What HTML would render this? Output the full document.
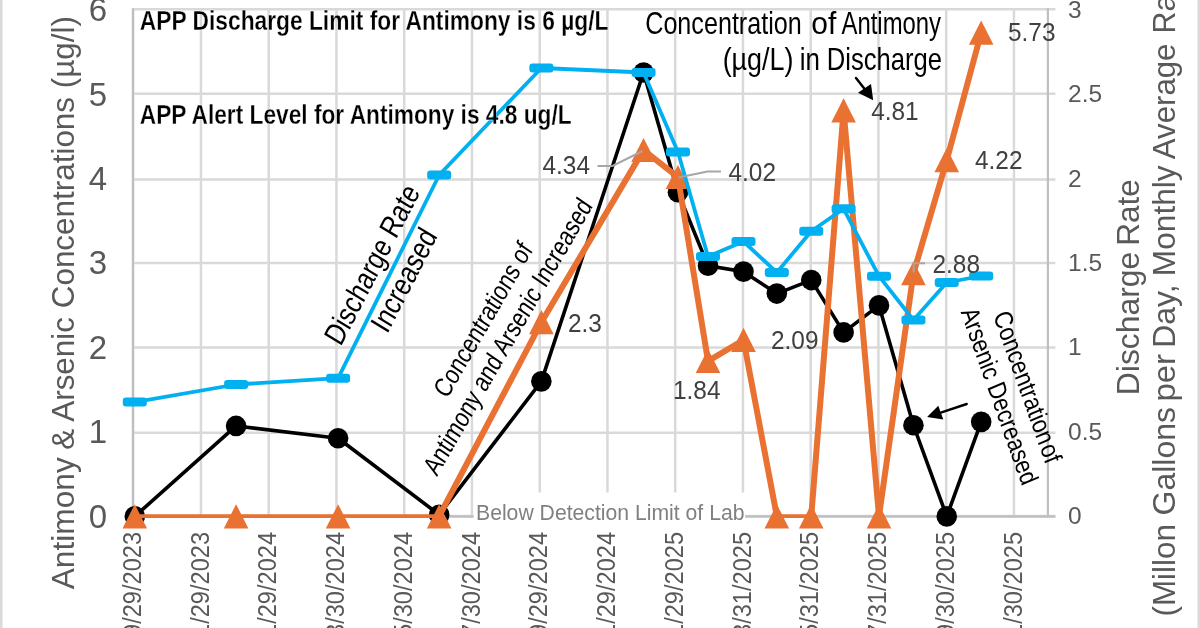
<!DOCTYPE html>
<html><head><meta charset="utf-8"><title>Antimony &amp; Arsenic Concentrations</title>
<style>
html,body{margin:0;padding:0;background:#fff;}
body{width:1200px;height:628px;overflow:hidden;font-family:"Liberation Sans",sans-serif;}
svg{display:block}
text{font-family:"Liberation Sans",sans-serif;}
.ax{fill:#595959}
.dl{fill:#404040;font-size:26.6px}
.nar{fill:#000}
</style></head><body>
<svg width="1200" height="628" viewBox="0 0 1200 628">
<rect x="0" y="0" width="1200" height="628" fill="#fff"/>
<rect x="0" y="0" width="2.5" height="628" fill="#d9d9d9"/>
<rect x="1197.5" y="0" width="2.5" height="628" fill="#d9d9d9"/>

<g stroke="#d9d9d9" stroke-width="2.5" fill="none">
<line x1="133.75" y1="516.10" x2="1055.4" y2="516.10"/>
<line x1="133.75" y1="432.70" x2="1055.4" y2="432.70"/>
<line x1="133.75" y1="347.40" x2="1055.4" y2="347.40"/>
<line x1="133.75" y1="263.00" x2="1055.4" y2="263.00"/>
<line x1="133.75" y1="179.40" x2="1055.4" y2="179.40"/>
<line x1="133.75" y1="93.70" x2="1055.4" y2="93.70"/>
<line x1="133.75" y1="9.20" x2="1055.4" y2="9.20"/>
<line x1="133.20" y1="8.2" x2="133.20" y2="517.2"/>
<line x1="200.95" y1="8.2" x2="200.95" y2="517.2"/>
<line x1="268.70" y1="8.2" x2="268.70" y2="517.2"/>
<line x1="336.45" y1="8.2" x2="336.45" y2="517.2"/>
<line x1="404.20" y1="8.2" x2="404.20" y2="517.2"/>
<line x1="471.95" y1="8.2" x2="471.95" y2="517.2"/>
<line x1="539.70" y1="8.2" x2="539.70" y2="517.2"/>
<line x1="607.45" y1="8.2" x2="607.45" y2="517.2"/>
<line x1="675.20" y1="8.2" x2="675.20" y2="517.2"/>
<line x1="742.95" y1="8.2" x2="742.95" y2="517.2"/>
<line x1="810.70" y1="8.2" x2="810.70" y2="517.2"/>
<line x1="878.45" y1="8.2" x2="878.45" y2="517.2"/>
<line x1="946.20" y1="8.2" x2="946.20" y2="517.2"/>
<line x1="1013.95" y1="8.2" x2="1013.95" y2="517.2"/>
</g>
<line x1="131.8" y1="516.5" x2="1055.4" y2="516.5" stroke="#bfbfbf" stroke-width="2.4"/>
<line x1="1047.9" y1="8.2" x2="1047.9" y2="517.2" stroke="#bfbfbf" stroke-width="2.2"/>
<line x1="132.9" y1="8.2" x2="132.9" y2="517.2" stroke="#bfbfbf" stroke-width="2.2"/>
<text class="ax" x="107.2" y="527.6" font-size="33" text-anchor="end">0</text>
<text class="ax" x="107.2" y="443.2" font-size="33" text-anchor="end">1</text>
<text class="ax" x="107.2" y="358.8" font-size="33" text-anchor="end">2</text>
<text class="ax" x="107.2" y="274.4" font-size="33" text-anchor="end">3</text>
<text class="ax" x="107.2" y="190.0" font-size="33" text-anchor="end">4</text>
<text class="ax" x="107.2" y="105.6" font-size="33" text-anchor="end">5</text>
<text class="ax" x="107.2" y="21.2" font-size="33" text-anchor="end">6</text>
<text class="ax" x="1068" y="524.2" font-size="24.5">0</text>
<text class="ax" x="1068" y="439.8" font-size="24.5">0.5</text>
<text class="ax" x="1068" y="355.4" font-size="24.5">1</text>
<text class="ax" x="1068" y="271.0" font-size="24.5">1.5</text>
<text class="ax" x="1068" y="186.6" font-size="24.5">2</text>
<text class="ax" x="1068" y="102.2" font-size="24.5">2.5</text>
<text class="ax" x="1068" y="17.8" font-size="24.5">3</text>
<text class="ax" font-size="31" transform="translate(74,589.26) rotate(-90) scale(1.0218,1)">Antimony</text>
<text class="ax" font-size="31" transform="translate(74,449.70) rotate(-90) scale(1.0138,1)">&amp; Arsenic Concentrations (µg/l)</text>
<text class="ax" font-size="32" transform="translate(1139,395.22) rotate(-90) scale(0.9969,1)">Discharge</text>
<text class="ax" font-size="32" transform="translate(1139,245.78) rotate(-90) scale(0.9850,1)">Rate</text>
<text class="ax" font-size="32" transform="translate(1174.8,616.55) rotate(-90) scale(0.9811,1)">(Millon</text>
<text class="ax" font-size="32" transform="translate(1174.8,515.50) rotate(-90) scale(1.0004,1)">Gallons</text>
<text class="ax" font-size="32" transform="translate(1174.8,401.61) rotate(-90) scale(1.0302,1)">per</text>
<text class="ax" font-size="32" transform="translate(1174.8,348.03) rotate(-90) scale(1.0031,1)">Day,</text>
<text class="ax" font-size="32" transform="translate(1174.8,276.20) rotate(-90) scale(0.9905,1)">Monthly</text>
<text class="ax" font-size="32" transform="translate(1174.8,159.16) rotate(-90) scale(0.9751,1)">Average</text>
<text class="ax" font-size="32" transform="translate(1174.8,33.49) rotate(-90) scale(0.9500,1)">Rate)</text>
<text class="ax" font-size="26" text-anchor="end" transform="translate(140.95,531.9) rotate(-90) scale(0.909,1)">9/29/2023</text>
<text class="ax" font-size="26" text-anchor="end" transform="translate(208.70,531.9) rotate(-90) scale(0.909,1)">11/29/2023</text>
<text class="ax" font-size="26" text-anchor="end" transform="translate(276.45,531.9) rotate(-90) scale(0.909,1)">1/29/2024</text>
<text class="ax" font-size="26" text-anchor="end" transform="translate(344.20,531.9) rotate(-90) scale(0.909,1)">3/30/2024</text>
<text class="ax" font-size="26" text-anchor="end" transform="translate(411.95,531.9) rotate(-90) scale(0.909,1)">5/30/2024</text>
<text class="ax" font-size="26" text-anchor="end" transform="translate(479.70,531.9) rotate(-90) scale(0.909,1)">7/30/2024</text>
<text class="ax" font-size="26" text-anchor="end" transform="translate(547.45,531.9) rotate(-90) scale(0.909,1)">9/29/2024</text>
<text class="ax" font-size="26" text-anchor="end" transform="translate(615.20,531.9) rotate(-90) scale(0.909,1)">11/29/2024</text>
<text class="ax" font-size="26" text-anchor="end" transform="translate(682.95,531.9) rotate(-90) scale(0.909,1)">1/29/2025</text>
<text class="ax" font-size="26" text-anchor="end" transform="translate(750.70,531.9) rotate(-90) scale(0.909,1)">3/31/2025</text>
<text class="ax" font-size="26" text-anchor="end" transform="translate(818.45,531.9) rotate(-90) scale(0.909,1)">5/31/2025</text>
<text class="ax" font-size="26" text-anchor="end" transform="translate(886.20,531.9) rotate(-90) scale(0.909,1)">7/31/2025</text>
<text class="ax" font-size="26" text-anchor="end" transform="translate(953.95,531.9) rotate(-90) scale(0.909,1)">9/30/2025</text>
<text class="ax" font-size="26" text-anchor="end" transform="translate(1021.70,531.9) rotate(-90) scale(0.909,1)">11/30/2025</text>
<rect x="473.7" y="492.5" width="271.5" height="32" fill="#fff"/>
<text x="476" y="520" font-size="22.5" fill="#808080" textLength="268.5" lengthAdjust="spacingAndGlyphs">Below Detection Limit of Lab</text>
<polyline points="134.80,516.40 236.10,425.92 338.11,438.25 439.18,514.71 541.36,381.36 643.54,72.46 677.97,192.30 708.00,265.73 743.50,271.64 776.82,293.58 811.25,280.08 843.60,332.41 879.00,305.40 913.43,425.25 946.75,516.40 981.18,421.87" fill="none" stroke="#000" stroke-width="3.6" stroke-linejoin="round"/>
<circle cx="134.80" cy="516.40" r="10.3" fill="#000"/>
<circle cx="236.10" cy="425.92" r="10.3" fill="#000"/>
<circle cx="338.11" cy="438.25" r="10.3" fill="#000"/>
<circle cx="439.18" cy="514.71" r="10.3" fill="#000"/>
<circle cx="541.36" cy="381.36" r="10.3" fill="#000"/>
<circle cx="643.54" cy="72.46" r="10.3" fill="#000"/>
<circle cx="677.97" cy="192.30" r="10.3" fill="#000"/>
<circle cx="708.00" cy="265.73" r="10.3" fill="#000"/>
<circle cx="743.50" cy="271.64" r="10.3" fill="#000"/>
<circle cx="776.82" cy="293.58" r="10.3" fill="#000"/>
<circle cx="811.25" cy="280.08" r="10.3" fill="#000"/>
<circle cx="843.60" cy="332.41" r="10.3" fill="#000"/>
<circle cx="879.00" cy="305.40" r="10.3" fill="#000"/>
<circle cx="913.43" cy="425.25" r="10.3" fill="#000"/>
<circle cx="946.75" cy="516.40" r="10.3" fill="#000"/>
<circle cx="981.18" cy="421.87" r="10.3" fill="#000"/>
<line x1="134.80" y1="516.10" x2="236.10" y2="516.10" stroke="#E97132" stroke-width="3.9" stroke-linecap="round"/>
<line x1="236.10" y1="516.10" x2="338.11" y2="516.10" stroke="#E97132" stroke-width="3.9" stroke-linecap="round"/>
<line x1="338.11" y1="516.10" x2="439.18" y2="516.10" stroke="#E97132" stroke-width="3.9" stroke-linecap="round"/>
<line x1="439.18" y1="516.10" x2="541.36" y2="322.28" stroke="#E97132" stroke-width="6" stroke-linecap="round"/>
<line x1="541.36" y1="322.28" x2="643.54" y2="150.10" stroke="#E97132" stroke-width="6" stroke-linecap="round"/>
<line x1="643.54" y1="150.10" x2="677.97" y2="177.11" stroke="#E97132" stroke-width="6" stroke-linecap="round"/>
<line x1="677.97" y1="177.11" x2="708.00" y2="361.10" stroke="#E97132" stroke-width="6" stroke-linecap="round"/>
<line x1="708.00" y1="361.10" x2="743.50" y2="340.00" stroke="#E97132" stroke-width="6" stroke-linecap="round"/>
<line x1="743.50" y1="340.00" x2="776.82" y2="516.10" stroke="#E97132" stroke-width="6" stroke-linecap="round"/>
<line x1="776.82" y1="516.10" x2="811.25" y2="516.10" stroke="#E97132" stroke-width="3.9" stroke-linecap="round"/>
<line x1="811.25" y1="516.10" x2="843.60" y2="110.44" stroke="#E97132" stroke-width="6" stroke-linecap="round"/>
<line x1="843.60" y1="110.44" x2="879.00" y2="516.10" stroke="#E97132" stroke-width="6" stroke-linecap="round"/>
<line x1="879.00" y1="516.10" x2="913.43" y2="273.33" stroke="#E97132" stroke-width="6" stroke-linecap="round"/>
<line x1="913.43" y1="273.33" x2="946.75" y2="160.23" stroke="#E97132" stroke-width="6" stroke-linecap="round"/>
<line x1="946.75" y1="160.23" x2="981.18" y2="32.79" stroke="#E97132" stroke-width="6" stroke-linecap="round"/>
<polygon points="134.80,504.20 147.10,528.40 122.50,528.40" fill="#E97132"/>
<polygon points="236.10,504.20 248.40,528.40 223.80,528.40" fill="#E97132"/>
<polygon points="338.11,504.20 350.41,528.40 325.81,528.40" fill="#E97132"/>
<polygon points="439.18,504.20 451.48,528.40 426.88,528.40" fill="#E97132"/>
<polygon points="541.36,310.08 553.66,334.28 529.06,334.28" fill="#E97132"/>
<polygon points="643.54,137.90 655.84,162.10 631.24,162.10" fill="#E97132"/>
<polygon points="677.97,164.91 690.27,189.11 665.67,189.11" fill="#E97132"/>
<polygon points="708.00,348.90 720.30,373.10 695.70,373.10" fill="#E97132"/>
<polygon points="743.50,327.80 755.80,352.00 731.20,352.00" fill="#E97132"/>
<polygon points="776.82,504.20 789.12,528.40 764.52,528.40" fill="#E97132"/>
<polygon points="811.25,504.20 823.55,528.40 798.95,528.40" fill="#E97132"/>
<polygon points="843.60,98.24 855.90,122.44 831.30,122.44" fill="#E97132"/>
<polygon points="879.00,504.20 891.30,528.40 866.70,528.40" fill="#E97132"/>
<polygon points="913.43,261.13 925.73,285.33 901.13,285.33" fill="#E97132"/>
<polygon points="946.75,148.03 959.05,172.23 934.45,172.23" fill="#E97132"/>
<polygon points="981.18,20.59 993.48,44.79 968.88,44.79" fill="#E97132"/>
<polyline points="134.80,402.10 236.10,384.50 338.11,378.20 439.18,175.00 541.36,68.00 643.54,72.50 677.97,152.00 708.00,256.50 743.50,241.50 776.82,272.50 811.25,231.20 843.60,208.80 879.00,276.20 913.43,320.00 946.75,282.50 981.18,276.00" fill="none" stroke="#00B0F0" stroke-width="3.8" stroke-linejoin="round"/>
<rect x="122.80" y="397.60" width="24" height="9" rx="3" fill="#00B0F0"/>
<rect x="224.10" y="380.00" width="24" height="9" rx="3" fill="#00B0F0"/>
<rect x="326.11" y="373.70" width="24" height="9" rx="3" fill="#00B0F0"/>
<rect x="427.18" y="170.50" width="24" height="9" rx="3" fill="#00B0F0"/>
<rect x="529.36" y="63.50" width="24" height="9" rx="3" fill="#00B0F0"/>
<rect x="631.54" y="68.00" width="24" height="9" rx="3" fill="#00B0F0"/>
<rect x="665.97" y="147.50" width="24" height="9" rx="3" fill="#00B0F0"/>
<rect x="696.00" y="252.00" width="24" height="9" rx="3" fill="#00B0F0"/>
<rect x="731.50" y="237.00" width="24" height="9" rx="3" fill="#00B0F0"/>
<rect x="764.82" y="268.00" width="24" height="9" rx="3" fill="#00B0F0"/>
<rect x="799.25" y="226.70" width="24" height="9" rx="3" fill="#00B0F0"/>
<rect x="831.60" y="204.30" width="24" height="9" rx="3" fill="#00B0F0"/>
<rect x="867.00" y="271.70" width="24" height="9" rx="3" fill="#00B0F0"/>
<rect x="901.43" y="315.50" width="24" height="9" rx="3" fill="#00B0F0"/>
<rect x="934.75" y="278.00" width="24" height="9" rx="3" fill="#00B0F0"/>
<rect x="969.18" y="271.50" width="24" height="9" rx="3" fill="#00B0F0"/>
<g stroke="#a6a6a6" stroke-width="2" fill="none">
<polyline points="597.5,166 612.5,166 642.5,151"/>
<polyline points="721,171.6 707.5,171.6 678.5,177.5"/>
<polyline points="925,263.2 913.7,263.2 913.7,272.5"/>
</g>
<text class="dl" transform="translate(542.5,173.5) scale(0.917,1)" text-anchor="start">4.34</text>
<text class="dl" transform="translate(728.5,181) scale(0.917,1)" text-anchor="start">4.02</text>
<text class="dl" transform="translate(568,332) scale(0.917,1)" text-anchor="start">2.3</text>
<text class="dl" transform="translate(673,399) scale(0.917,1)" text-anchor="start">1.84</text>
<text class="dl" transform="translate(771,348.8) scale(0.917,1)" text-anchor="start">2.09</text>
<text class="dl" transform="translate(871.2,119.6) scale(0.917,1)" text-anchor="start">4.81</text>
<text class="dl" transform="translate(975,169.3) scale(0.917,1)" text-anchor="start">4.22</text>
<text class="dl" transform="translate(1008,41.3) scale(0.917,1)" text-anchor="start">5.73</text>
<text class="dl" transform="translate(932.5,272.5) scale(0.917,1)" text-anchor="start">2.88</text>
<text class="nar" font-size="28" font-weight="bold" stroke="#fff" stroke-width="0.28" text-anchor="start" transform="translate(139.8,29.8) rotate(0) scale(0.8134,1)">APP Discharge Limit for Antimony is 6 µg/L</text>
<text class="nar" font-size="28" font-weight="bold" stroke="#fff" stroke-width="0.28" text-anchor="start" transform="translate(139.8,124.4) rotate(0) scale(0.811,1)">APP Alert Level for Antimony is 4.8 ug/L</text>
<text font-size="32" font-weight="normal" fill="#000" transform="translate(645.24,33.7) scale(0.7859,1)">Concentration</text>
<text font-size="32" font-weight="normal" fill="#000" transform="translate(811.34,33.7) scale(0.9367,1)">of</text>
<text font-size="32" font-weight="normal" fill="#000" transform="translate(841.55,33.7) scale(0.7460,1)">Antimony</text>
<text font-size="32" font-weight="normal" fill="#000" transform="translate(722.63,69.8) scale(0.8411,1)">(µg/L)</text>
<text font-size="32" font-weight="normal" fill="#000" transform="translate(799.79,69.8) scale(0.8102,1)">in</text>
<text font-size="32" font-weight="normal" fill="#000" transform="translate(826.70,69.8) scale(0.8012,1)">Discharge</text>
<text class="nar" font-size="32" transform="translate(340.8,347.1) scale(0.92,1) rotate(-60.75) scale(0.805,1)">Discharge Rate</text>
<text class="nar" font-size="32" transform="translate(387.2,334.6) scale(0.92,1) rotate(-60.75) scale(0.805,1)">Increased</text>
<text class="nar" font-size="28" transform="translate(447.2,399.5) scale(0.92,1) rotate(-57.9) scale(0.805,1)">Concentrations of</text>
<text class="nar" font-size="28" transform="translate(437,477) scale(0.92,1) rotate(-57.9) scale(0.797,1)">Antimony and Arsenic Increased</text>
<text class="nar" font-size="28" transform="translate(993,315.5) scale(0.92,1) rotate(69) scale(0.805,1)">Concentration<tspan dx="-6"> </tspan>of</text>
<text class="nar" font-size="28" transform="translate(960.5,312) scale(0.92,1) rotate(69) scale(0.792,1)">Arsenic Decreased</text>
<line x1="856" y1="78" x2="867" y2="92" stroke="#000" stroke-width="2.5" stroke-linecap="round"/>
<polygon points="873.2,100.2 858,92.8 871,84" fill="#000"/>
<line x1="966.7" y1="404" x2="940.8" y2="412.7" stroke="#000" stroke-width="2.4" stroke-linecap="round"/>
<polygon points="927.1,417.1 938.3,405.8 943.3,419.6" fill="#000"/>
</svg></body></html>
